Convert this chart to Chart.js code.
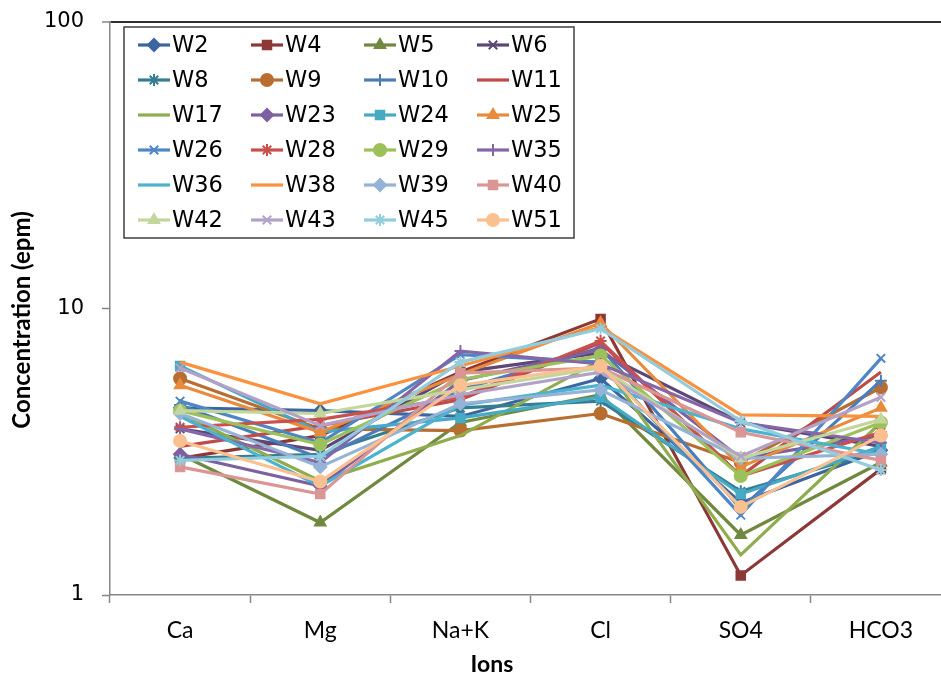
<!DOCTYPE html>
<html>
<head>
<meta charset="utf-8">
<script src="https://cdn.jsdelivr.net/npm/chart.js@4.4.1/dist/chart.umd.min.js"></script>
<style>
  html, body { margin: 0; padding: 0; background: #fff; overflow: hidden; }
  #wrap { width: 960px; height: 681px; }
</style>
</head>
<body>
<div id="wrap"><canvas id="ions-chart" width="960" height="681"></canvas></div>
<script>
// Ions on the x axis, one line per well
const ions = ['Ca', 'Mg', 'Na+K', 'Cl', 'SO4', 'HCO3'];
const yTicks = [1, 10, 100];
const xTitle = 'Ions';
const yTitle = 'Concentration (epm)';

const wells = ['W2', 'W4', 'W5', 'W6', 'W8', 'W9', 'W10', 'W11', 'W17', 'W23', 'W24', 'W25',
               'W26', 'W28', 'W29', 'W35', 'W36', 'W38', 'W39', 'W40', 'W42', 'W43', 'W45', 'W51'];

// concentrations in epm: Ca, Mg, Na+K, Cl, SO4, HCO3
const W2  = [4.5, 4.4, 4.2, 5.7, 2.1, 3.2];
const W4  = [3.0, 3.6, 6.0, 9.2, 1.17, 2.75];
const W5  = [3.1, 1.79, 4.0, 5.0, 1.62, 2.9];
const W6  = [3.8, 3.2, 6.0, 7.0, 4.0, 3.3];
const W8  = [3.0, 3.1, 4.5, 4.75, 2.3, 3.2];
const W9  = [5.7, 3.8, 3.75, 4.3, 2.9, 5.3];
const W10 = [4.6, 3.0, 5.2, 7.3, 2.0, 5.6];
const W11 = [3.3, 3.9, 4.8, 7.6, 2.6, 6.0];
const W17 = [4.3, 2.5, 3.6, 6.6, 1.38, 4.0];
const W23 = [3.1, 2.4, 5.6, 7.2, 3.0, 3.6];
const W24 = [6.3, 3.7, 4.15, 4.9, 2.25, 3.3];
const W25 = [5.4, 3.7, 5.9, 8.9, 2.8, 4.5];
const W26 = [4.75, 3.4, 6.9, 6.5, 1.9, 6.7];
const W28 = [3.85, 4.1, 4.9, 7.7, 2.6, 3.7];
const W29 = [4.4, 3.35, 5.65, 6.85, 2.6, 4.0];
const W35 = [3.8, 2.9, 7.1, 6.4, 4.0, 3.4];
const W36 = [4.2, 2.4, 4.6, 5.4, 3.8, 3.1];
const W38 = [6.5, 4.65, 6.3, 8.6, 4.25, 4.2];
const W39 = [4.3, 2.8, 4.65, 5.2, 3.0, 3.1];
const W40 = [2.8, 2.25, 5.95, 6.2, 3.7, 2.95];
const W42 = [4.4, 4.3, 5.2, 6.2, 3.0, 4.1];
const W43 = [6.2, 3.9, 5.0, 6.0, 3.05, 4.9];
const W45 = [2.95, 3.05, 6.5, 8.5, 4.05, 2.73];
const W51 = [3.45, 2.49, 5.4, 6.3, 2.03, 3.6];

const values = [W2, W4, W5, W6, W8, W9, W10, W11, W17, W23, W24, W25,
                W26, W28, W29, W35, W36, W38, W39, W40, W42, W43, W45, W51];

const colors = [
  '#3B66A0', '#8C3836', '#71893F', '#5C4776', '#357D91', '#B86D31',
  '#4A7EBB', '#BE4B48', '#8FAD4E', '#7D60A0', '#46AAC5', '#E98A3C',
  '#4F86C6', '#C9504C', '#9DC15A', '#8567A8', '#4BB2CF', '#F9913F',
  '#95B3D7', '#D99694', '#C3D69B', '#B3A2C7', '#93CDDD', '#FAC090'
];
// false = line only
const markers = [
  'rectRot', 'rect', 'triangle', 'crossRot', 'star', 'circle',
  'cross', false, false, 'rectRot', 'rect', 'triangle',
  'crossRot', 'star', 'circle', 'cross', false, false,
  'rectRot', 'rect', 'triangle', 'crossRot', 'star', 'circle'
];

const datasets = wells.map((name, i) => ({
  label: name,
  data: values[i],
  borderColor: colors[i],
  backgroundColor: colors[i],
  borderWidth: 3.2,
  pointStyle: markers[i] || 'circle',
  pointRadius: markers[i] ? 6 : 0,
  pointHoverRadius: markers[i] ? 6 : 0,
  pointBorderWidth: 2,
  tension: 0,
  order: wells.length - i
}));

// legend as a boxed 4-column grid inside the plot, plus both axis titles
const boxLegend = {
  id: 'boxLegend',
  afterDraw(chart) {
    const ctx = chart.ctx;
    const left = 124, top = 27, right = 574, bottom = 238;
    ctx.save();
    ctx.fillStyle = '#fff';
    ctx.fillRect(left, top, right - left, bottom - top);
    ctx.strokeStyle = '#404040';
    ctx.lineWidth = 1.5;
    ctx.strokeRect(left, top, right - left, bottom - top);
    ctx.font = '22.5px "DejaVu Sans"';
    ctx.textBaseline = 'middle';
    ctx.textAlign = 'left';
    chart.data.datasets.forEach((ds, i) => {
      const col = i % 4, row = Math.floor(i / 4);
      const x0 = 138 + col * 113, y = 45 + row * 35;
      ctx.strokeStyle = ds.borderColor;
      ctx.lineWidth = 3.2;
      ctx.beginPath();
      ctx.moveTo(x0, y);
      ctx.lineTo(x0 + 32, y);
      ctx.stroke();
      if (ds.pointRadius > 0) {
        ctx.fillStyle = ds.backgroundColor;
        ctx.strokeStyle = ds.borderColor;
        ctx.lineWidth = 2;
        Chart.helpers.drawPoint(ctx, { pointStyle: ds.pointStyle, radius: 6, borderWidth: 2, rotation: 0 }, x0 + 16, y);
      }
      ctx.fillStyle = '#000';
      ctx.fillText(ds.label, x0 + 34, y + 1);
    });

    ctx.fillStyle = '#000';
    ctx.textAlign = 'center';
    ctx.font = 'bold 23px Lato';
    ctx.fillText(xTitle, 492, 665);
    ctx.translate(22, 320);
    ctx.rotate(-Math.PI / 2);
    ctx.font = 'bold 24px Lato';
    ctx.fillText(yTitle, 0, 0);
    ctx.restore();
  }
};

new Chart(document.getElementById('ions-chart'), {
  type: 'line',
  data: { labels: ions, datasets },
  options: {
    responsive: false,
    animation: false,
    layout: { padding: { left: 0, top: 22, right: 9, bottom: 0 } },
    plugins: {
      legend: { display: false },
      tooltip: { enabled: false }
    },
    scales: {
      x: {
        type: 'category',
        offset: true,
        afterFit: scale => { scale.height = 86; scale.paddingLeft = 0; scale.paddingRight = 0; },
        grid: { display: true, drawOnChartArea: false, offset: true, tickLength: 8, tickColor: '#868686', tickWidth: 1.5 },
        border: { color: '#868686', width: 1.5 },
        ticks: { color: '#000', padding: 14, font: { family: 'Lato', size: 23 } }
      },
      y: {
        type: 'logarithmic',
        min: 1,
        max: 100,
        afterFit: scale => { scale.width = 110; scale.paddingTop = 0; scale.paddingBottom = 0; },
        afterBuildTicks: scale => { scale.ticks = yTicks.map(v => ({ value: v })); },
        grid: {
          drawOnChartArea: true,
          color: c => (c.tick && c.tick.value === 100 ? '#303030' : 'rgba(0,0,0,0)'),
          lineWidth: c => (c.tick && c.tick.value === 100 ? 2 : 1),
          tickColor: '#868686',
          tickLength: 8,
          tickWidth: 1.5
        },
        border: { color: '#868686', width: 1.5 },
        ticks: { color: '#000', padding: 18, font: { family: 'DejaVu Sans', size: 21 }, callback: v => String(v) }
      }
    }
  },
  plugins: [boxLegend]
});
</script>
</body>
</html>
